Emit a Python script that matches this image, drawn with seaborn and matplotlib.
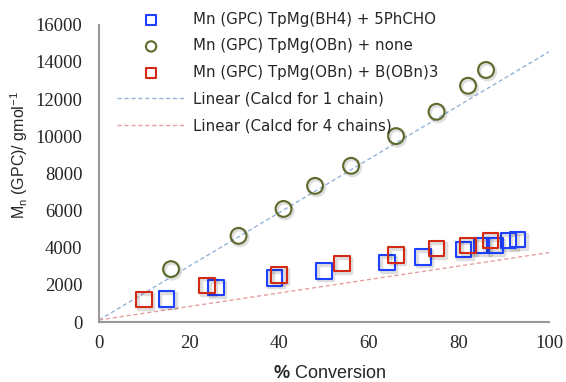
import numpy as np
import pandas as pd
import matplotlib
matplotlib.use("Agg")
import matplotlib.pyplot as plt
import matplotlib.patheffects as pe
import seaborn as sns

# ---- data ----
bh4_conv = [15, 26, 39, 50, 64, 72, 81, 85, 88, 91, 93]
bh4_mn = [1240, 1850, 2370, 2750, 3200, 3500, 3920, 4130, 4130, 4370, 4440]

obn_conv = [16, 31, 41, 48, 56, 66, 75, 82, 86]
obn_mn = [2850, 4640, 6090, 7330, 8410, 10010, 11320, 12720, 13570]

bobn_conv = [10, 24, 40, 54, 66, 75, 82, 87]
bobn_mn = [1210, 1980, 2530, 3130, 3610, 3960, 4120, 4370]

calc_conv = [0, 100]
calc_1chain = [110, 14550]
calc_4chain = [110, 3740]

labels = ["Mn (GPC) TpMg(BH4) + 5PhCHO", "Mn (GPC) TpMg(OBn) + none",
          "Mn (GPC) TpMg(OBn) + B(OBn)3", "Linear (Calcd for 1 chain)",
          "Linear (Calcd for 4 chains)"]

sns.set_style("white")
plt.rcParams["font.family"] = ["DejaVu Sans"]
plt.rcParams["mathtext.fontset"] = "custom"
plt.rcParams["mathtext.rm"] = "Liberation Sans"
plt.rcParams["mathtext.bf"] = "Liberation Sans:bold"

fig, ax = plt.subplots(figsize=(5.66, 3.82), dpi=100)
fig.subplots_adjust(left=0.175, right=0.970, bottom=0.157, top=0.935)

# light drop shadow like the excel markers
shadow = [pe.SimpleLineShadow(offset=(1.0, -1.3), shadow_color="black", alpha=0.13,
                              linewidth=2.5), pe.Normal()]

sns.scatterplot(x=bh4_conv, y=bh4_mn, marker="s", s=120, facecolor="none",
                edgecolor="#2040ff", linewidth=1.5, label=labels[0], ax=ax, zorder=3)
sns.scatterplot(x=obn_conv, y=obn_mn, marker="o", s=130, facecolor="none",
                edgecolor="#5c6b2c", linewidth=1.5, label=labels[1], ax=ax, zorder=3)
sns.scatterplot(x=bobn_conv, y=bobn_mn, marker="s", s=120, facecolor="none",
                edgecolor="#d42a14", linewidth=1.5, label=labels[2], ax=ax, zorder=3)
sns.lineplot(x=calc_conv, y=calc_1chain, color="#95b3d7", linestyle=(0, (3, 2)),
             linewidth=1, label=labels[3], ax=ax, zorder=2)
sns.lineplot(x=calc_conv, y=calc_4chain, color="#e6a0a0", linestyle=(0, (3, 2)),
             linewidth=1, label=labels[4], ax=ax, zorder=2)

for coll in ax.collections:
    coll.set_path_effects(shadow)

ax.set_xlim(0, 100)
ax.set_ylim(0, 16000)
ax.set_xticks(np.arange(0, 101, 20))
ax.set_yticks(np.arange(0, 16001, 2000))

for side in ["top", "right"]:
    ax.spines[side].set_visible(False)
for side in ["left", "bottom"]:
    ax.spines[side].set_color("#999999")
    ax.spines[side].set_linewidth(1.5)
ax.tick_params(axis="both", direction="out", length=5, width=1.5, color="#999999",
               labelsize=13.5)
ax.tick_params(axis="y", pad=7)
ax.tick_params(axis="x", pad=4)
for lab in ax.get_xticklabels() + ax.get_yticklabels():
    lab.set_family("Liberation Serif")

ax.set_ylabel("M$_\\mathregular{n}$ (GPC)/ gmol$^\\mathregular{-1}$",
              family="Liberation Sans", fontsize=11.5)
ax.yaxis.set_label_coords(-0.153, 0.562)
ax.set_xlabel("$\\mathbf{\\%}$ Conversion", family="Liberation Sans", fontsize=13)
ax.xaxis.set_label_coords(0.513, -0.145)

leg = ax.legend(loc="upper left", bbox_to_anchor=(0.024, 1.069), frameon=False,
                borderpad=0, fontsize=10.8, handlelength=4.5, handletextpad=0.53,
                labelspacing=0.77, markerscale=0.65)
for h in leg.legend_handles:
    h.set_path_effects([])

fig.savefig("out.png", dpi=100)
